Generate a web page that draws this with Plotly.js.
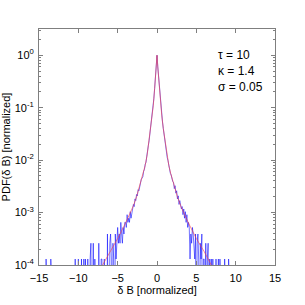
<!DOCTYPE html>
<html><head><meta charset="utf-8">
<script src="https://cdn.plot.ly/plotly-3.0.1.min.js"></script>
<style>html,body{margin:0;padding:0;background:#fff}#chart{width:305px;height:305px}</style>
</head><body><div id="chart"></div>
<script>
// Histogram of delta B: bins of width 0.1 starting at -15.0 (rows of 10 bins = one unit)
const binStart = -15.0;
const binWidth = 0.1;
const countScale = 1.3e-4; // PDF value of one count (normalized so peak = 1)
const counts = [
  0,0,0,0,0,0,0,0,0,1,            // -15.0 .. -14.1
  0,0,0,0,0,1,0,0,0,0,            // -14
  0,0,0,0,0,0,0,0,0,0,            // -13
  0,0,0,0,0,0,0,0,0,0,            // -12
  0,0,0,0,0,0,1,0,0,0,            // -11
  1,0,0,0,1,0,0,1,0,1,            // -10
  0,0,1,0,0,1,2,0,0,2,            // -9
  0,1,0,0,0,0,2,0,0,1,            // -8
  1,0,0,1,0,0,0,3,1,0,            // -7
  2,3,1,0,2,1,0,3,1,2,            // -6
  4,2,3,2,5,3,2,4,3,5,            // -5
  5,4,7,5,6,5,8,6,7,9,            // -4
  11,10,14,13,17,16,21,20,25,28,  // -3
  33,35,37,47,51,64,70,91,108,146,// -2
  182,244,300,420,548,800,1150,1790,2820,4650, // -1
  7690,4600,2870,1750,1170,770,560,410,310,232, // 0
  188,140,114,86,75,59,55,43,40,33, // 1
  30,29,22,25,18,20,14,16,11,13,  // 2
  10,9,10,7,9,6,8,5,7,4,          // 3
  5,4,1,3,2,4,3,2,1,3,            // 4
  0,2,3,1,0,2,1,3,0,1,            // 5
  1,0,2,0,1,2,0,1,0,1,            // 6
  0,1,0,0,0,1,0,0,1,0,            // 7
  1,0,0,0,0,0,1,0,0,0,            // 8
  0,1,0,0,0,0,0,0,0,0             // 9
];
// Fitted model curve (symmetric)
const fitX = [-7.5,-6.9,-6,-5,-4,-3.3,-3,-2.6,-2.25,-2,-1.75,-1.5,-1.25,-1,-0.8,-0.6,-0.47,-0.3,-0.2,-0.1,0,
              0.1,0.2,0.3,0.47,0.6,0.8,1,1.25,1.5,1.75,2,2.25,2.6,3,3.3,4,5,6,6.9,7.5];
const fitY = [0.00007,0.0001,0.00018,0.00032,0.00063,0.00105,0.00135,0.0020,0.0030,0.0040,0.0055,0.0079,0.0126,0.024,0.040,0.072,0.11,0.23,0.37,0.60,1,
              0.60,0.37,0.23,0.11,0.072,0.040,0.024,0.0126,0.0079,0.0055,0.0040,0.0030,0.0020,0.00135,0.00105,0.00063,0.00032,0.00018,0.0001,0.00007];
const xTicks = [-15,-10,-5,0,5,10,15];
const yExponents = [-4,-3,-2,-1,0];
const annLines = ["τ = 10", "κ = 1.4", "σ = 0.05"];

const histX = counts.map((c,i) => +(binStart + i*binWidth).toFixed(2));
const histY = counts.map(c => c > 0 ? c*countScale : 1e-7); // empty bins fall below the axis

const yTickVals = yExponents.map(e => Math.pow(10, e));
const yTickText = yExponents.map(e => '10<sup>' + e + '</sup>');
const yMinor = [];
yExponents.forEach(e => { for (let m = 2; m <= 9; m++) yMinor.push(m*Math.pow(10, e)); });

const gray = '#7f7f7f';
const font = {family: 'Liberation Sans, Arial, sans-serif', size: 11, color: '#000'};
const traces = [
  {x: histX, y: histY, type: 'scatter', mode: 'lines', line: {color: 'rgba(0,0,255,0.55)', width: 1}, hoverinfo: 'skip'},
  {x: fitX, y: fitY, type: 'scatter', mode: 'lines', line: {color: 'rgba(255,60,60,0.6)', width: 1}, hoverinfo: 'skip'}
];
const layout = {
  width: 305, height: 305,
  margin: {l: 39, r: 30, t: 29, b: 40},
  paper_bgcolor: '#fff', plot_bgcolor: '#fff',
  showlegend: false, font: font,
  xaxis: {range: [-15, 15], tickmode: 'array', tickvals: xTicks, ticks: 'inside', ticklen: 4, tickcolor: gray,
          showline: true, linecolor: gray, linewidth: 1, mirror: 'allticks', showgrid: false, zeroline: false,
          ticklabelstandoff: 3,
          title: {text: 'δ B [normalized]', font: font, standoff: 2}, tickfont: font},
  yaxis: {type: 'log', range: [-4, 0.5], tickmode: 'array', tickvals: yTickVals, ticktext: yTickText,
          ticks: 'inside', ticklen: 4, tickcolor: gray,
          showline: true, linecolor: gray, linewidth: 1, mirror: 'allticks', showgrid: false, zeroline: false,
          minor: {tickmode: 'array', tickvals: yMinor, ticks: 'inside', ticklen: 2, tickcolor: gray, showgrid: false},
          ticklabelstandoff: 2,
          title: {text: 'PDF(δ B) [normalized]', font: font, standoff: 4}, tickfont: font},
  annotations: annLines.map((t,i) => ({text: t, xref: 'paper', yref: 'paper', x: 0.752, y: 0.89 - i*0.068,
      xanchor: 'left', yanchor: 'middle', showarrow: false, font: {family: font.family, size: 12, color: '#000'}}))
};
Plotly.newPlot('chart', traces, layout, {staticPlot: true, displayModeBar: false});
</script></body></html>
